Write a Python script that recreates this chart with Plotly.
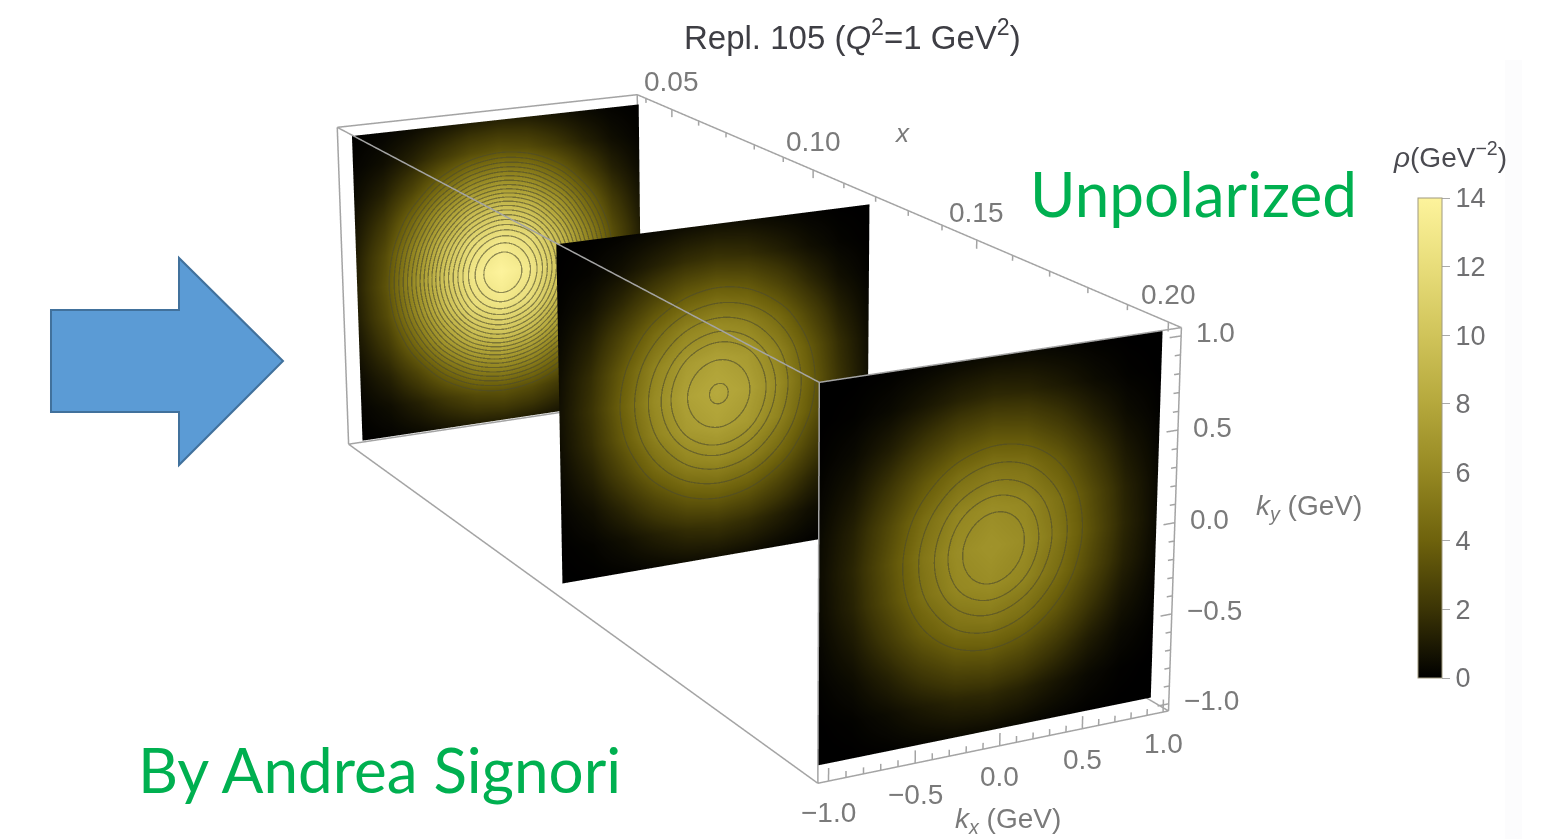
import numpy as np
import plotly.graph_objects as go

W, H = 1551, 839

# ---------- data ----------
kx_nodes = [-1.0, -0.8, -0.6, -0.4, -0.2, 0.0, 0.2, 0.4, 0.6, 0.8, 1.0]
ky_nodes = [-1.0, -0.8, -0.6, -0.4, -0.2, 0.0, 0.2, 0.4, 0.6, 0.8, 1.0]
panel_x = [0.0390, 0.1197, 0.2000]

rho_panel_1 = [
    [0.04, 0.16, 0.42, 0.79, 1.13, 1.27, 1.13, 0.79, 0.42, 0.16, 0.04],
    [0.16, 0.54, 1.27, 2.22, 3.05, 3.38, 3.05, 2.22, 1.27, 0.54, 0.16],
    [0.42, 1.27, 2.75, 4.56, 6.04, 6.62, 6.04, 4.56, 2.75, 1.27, 0.42],
    [0.79, 2.22, 4.56, 7.24, 9.38, 10.2, 9.38, 7.24, 4.56, 2.22, 0.79],
    [1.13, 3.05, 6.04, 9.38, 11.99, 12.96, 11.99, 9.38, 6.04, 3.05, 1.13],
    [1.27, 3.38, 6.62, 10.2, 12.96, 14.0, 12.96, 10.2, 6.62, 3.38, 1.27],
    [1.13, 3.05, 6.04, 9.38, 11.99, 12.96, 11.99, 9.38, 6.04, 3.05, 1.13],
    [0.79, 2.22, 4.56, 7.24, 9.38, 10.2, 9.38, 7.24, 4.56, 2.22, 0.79],
    [0.42, 1.27, 2.75, 4.56, 6.04, 6.62, 6.04, 4.56, 2.75, 1.27, 0.42],
    [0.16, 0.54, 1.27, 2.22, 3.05, 3.38, 3.05, 2.22, 1.27, 0.54, 0.16],
    [0.04, 0.16, 0.42, 0.79, 1.13, 1.27, 1.13, 0.79, 0.42, 0.16, 0.04],
]
rho_panel_2 = [
    [0.01, 0.04, 0.14, 0.32, 0.52, 0.60, 0.52, 0.32, 0.14, 0.04, 0.01],
    [0.04, 0.20, 0.60, 1.21, 1.76, 1.98, 1.76, 1.21, 0.60, 0.20, 0.04],
    [0.14, 0.60, 1.56, 2.76, 3.73, 4.09, 3.73, 2.76, 1.56, 0.60, 0.14],
    [0.32, 1.21, 2.76, 4.48, 5.74, 6.20, 5.74, 4.48, 2.76, 1.21, 0.32],
    [0.52, 1.76, 3.73, 5.74, 7.13, 7.61, 7.13, 5.74, 3.73, 1.76, 0.52],
    [0.60, 1.98, 4.09, 6.20, 7.61, 8.10, 7.61, 6.20, 4.09, 1.98, 0.60],
    [0.52, 1.76, 3.73, 5.74, 7.13, 7.61, 7.13, 5.74, 3.73, 1.76, 0.52],
    [0.32, 1.21, 2.76, 4.48, 5.74, 6.20, 5.74, 4.48, 2.76, 1.21, 0.32],
    [0.14, 0.60, 1.56, 2.76, 3.73, 4.09, 3.73, 2.76, 1.56, 0.60, 0.14],
    [0.04, 0.20, 0.60, 1.21, 1.76, 1.98, 1.76, 1.21, 0.60, 0.20, 0.04],
    [0.01, 0.04, 0.14, 0.32, 0.52, 0.60, 0.52, 0.32, 0.14, 0.04, 0.01],
]
rho_panel_3 = [
    [0.00, 0.02, 0.09, 0.23, 0.38, 0.43, 0.35, 0.20, 0.07, 0.02, 0.00],
    [0.02, 0.13, 0.45, 0.96, 1.41, 1.56, 1.32, 0.84, 0.37, 0.10, 0.01],
    [0.09, 0.44, 1.25, 2.29, 3.11, 3.36, 2.96, 2.08, 1.08, 0.37, 0.07],
    [0.21, 0.91, 2.24, 3.75, 4.82, 5.14, 4.66, 3.51, 2.04, 0.80, 0.18],
    [0.34, 1.33, 3.01, 4.76, 5.94, 6.31, 5.85, 4.61, 2.87, 1.25, 0.32],
    [0.39, 1.46, 3.24, 5.06, 6.28, 6.70, 6.28, 5.06, 3.24, 1.46, 0.39],
    [0.32, 1.25, 2.87, 4.61, 5.85, 6.31, 5.94, 4.76, 3.01, 1.33, 0.34],
    [0.18, 0.80, 2.04, 3.51, 4.66, 5.14, 4.82, 3.75, 2.24, 0.91, 0.21],
    [0.07, 0.37, 1.08, 2.08, 2.96, 3.36, 3.11, 2.29, 1.25, 0.44, 0.09],
    [0.01, 0.10, 0.37, 0.84, 1.32, 1.56, 1.41, 0.96, 0.45, 0.13, 0.02],
    [0.00, 0.02, 0.07, 0.20, 0.35, 0.43, 0.38, 0.23, 0.09, 0.02, 0.00],
]
levels_panel_1 = [3.5, 4.0, 4.5, 5.0, 5.5, 6.0, 6.5, 7.0, 7.5, 8.0, 8.5, 9.0, 9.5, 10.0,
                  10.5, 11.0, 11.5, 12.0, 12.5, 13.0, 13.5]
levels_panel_2 = [3.75, 4.75, 5.7, 6.45, 6.95, 7.6, 8.05]
levels_panel_3 = [3.9, 4.75, 5.45, 5.95, 6.35]

x_major_ticks = [0.05, 0.10, 0.15, 0.20]
x_tick_labels = ["0.05", "0.10", "0.15", "0.20"]
kx_major_ticks = [-1.0, -0.5, 0.0, 0.5, 1.0]
kx_tick_labels = ["\u22121.0", "\u22120.5", "0.0", "0.5", "1.0"]
ky_major_ticks = [-1.0, -0.5, 0.0, 0.5, 1.0]
ky_tick_labels = ["\u22121.0", "\u22120.5", "0.0", "0.5", "1.0"]
cbar_ticks = [0, 2, 4, 6, 8, 10, 12, 14]

# ---------- box and view ----------
xmin, xmax = 0.0366, 0.2031
ymin, ymax = -1.0610, 1.0343
zmin, zmax = -1.0402, 1.0438
aspect = (2.9823, 0.9811, 0.9794)
eye = (8.5141, -4.3055, 2.8654)
center = (0.1706, 0.0937, -0.0424)
up = (-0.0033, -0.0011, 1.0)
lens = 3.6369
pad = 0.01   # axis ranges slightly wider than the box so its edges are not clipped


def refine(A, m=8):
    A = np.asarray(A, float)
    def along(B):
        n = B.shape[0]
        ext = np.vstack([2*B[0]-B[1], B, 2*B[-1]-B[-2]])
        rows = []
        for i in range(n-1):
            for k in range(m):
                t = k/m
                a0, a1, a2, a3 = ext[i], ext[i+1], ext[i+2], ext[i+3]
                rows.append(.5*(2*a1+(a2-a0)*t+(2*a0-5*a1+4*a2-a3)*t*t+(3*a1-a0-3*a2+a3)*t**3))
        rows.append(B[-1])
        return np.array(rows)
    return along(along(A).T).T


def contour_xyz(field, levels, xval):
    F = refine(field)
    Kx = refine(np.tile(kx_nodes, (len(ky_nodes), 1)))
    Ky = refine(np.tile(np.array(ky_nodes)[:, None], (1, len(kx_nodes))))
    X, Y, Z = [], [], []
    kxs = Kx[0]; kys = Ky[:, 0]
    for lev in levels:
        if F.max() < lev:
            continue
        for j in range(F.shape[0]-1):
            for i in range(F.shape[1]-1):
                c = [F[j,i], F[j,i+1], F[j+1,i+1], F[j+1,i]]
                if (min(c) >= lev) or (max(c) < lev):
                    continue
                corners = [(kxs[i],kys[j]),(kxs[i+1],kys[j]),(kxs[i+1],kys[j+1]),(kxs[i],kys[j+1])]
                pts = []
                for e in range(4):
                    a, b = c[e], c[(e+1)%4]
                    if (a < lev) != (b < lev):
                        t = (lev-a)/(b-a)
                        pa, pb = corners[e], corners[(e+1)%4]
                        pts.append((pa[0]+t*(pb[0]-pa[0]), pa[1]+t*(pb[1]-pa[1])))
                if len(pts) >= 2:
                    X += [xval, xval, None]
                    Y += [pts[0][0], pts[1][0], None]
                    Z += [pts[0][1], pts[1][1], None]
    return X, Y, Z


colorscale = [[0,'#000000'],[1/7,'#3b3405'],[2/7,'#6e620c'],[3/7,'#958822'],
              [4/7,'#b5a83c'],[5/7,'#d0c45a'],[6/7,'#e8dd7a'],[1,'#fdf39c']]

fig = go.Figure()
dx = 0.0006
for xval, rho, levels, is_last in zip(panel_x, [rho_panel_1, rho_panel_2, rho_panel_3],
                                      [levels_panel_1, levels_panel_2, levels_panel_3], [False, False, True]):
    xx = np.full((len(ky_nodes), len(kx_nodes)), xval)
    yy, zz = np.meshgrid(kx_nodes, ky_nodes)
    fig.add_trace(go.Surface(
        x=xx, y=yy, z=zz, surfacecolor=rho, cmin=0, cmax=14, colorscale=colorscale,
        showscale=is_last, hoverinfo='skip',
        lighting=dict(ambient=1, diffuse=0, specular=0, roughness=1, fresnel=0),
        colorbar=dict(x=1418/W, xanchor='left', xpad=0, ypad=0, y=1-438/H, yanchor='middle', len=480, lenmode='pixels',
                      thickness=24, thicknessmode='pixels', tickvals=cbar_ticks, ticks='outside', ticklen=8,
                      tickcolor='#aaaaaa', outlinecolor='#a09a80', outlinewidth=1,
                      tickfont=dict(family='Liberation Sans', size=27, color='#707072'))))
    X, Y, Z = contour_xyz(rho, levels, xval+dx)
    fig.add_trace(go.Scatter3d(x=X, y=Y, z=Z, mode='lines', hoverinfo='skip', opacity=0.6,
                               line=dict(color='#4c4a2c', width=2.5)))

edges = []
for a in (ymin, ymax):
    for b in (zmin, zmax):
        edges.append(((xmin,a,b),(xmax,a,b)))
for a in (xmin, xmax):
    for b in (zmin, zmax):
        edges.append(((a,ymin,b),(a,ymax,b)))
for a in (xmin, xmax):
    for b in (ymin, ymax):
        edges.append(((a,b,zmin),(a,b,zmax)))
ex, ey, ez = [], [], []
for s, e in edges:
    ex += [s[0], e[0], None]; ey += [s[1], e[1], None]; ez += [s[2], e[2], None]
def seg(a, b):
    ex.extend([a[0], b[0], None]); ey.extend([a[1], b[1], None]); ez.extend([a[2], b[2], None])
for k in range(4, 21):
    v = k/100
    L = 0.05 if k % 5 == 0 else 0.03
    seg((v, ymax, zmax), (v, ymax, zmax-L))
for k in range(-10, 11):
    v = k/10
    major = k % 5 == 0
    seg((xmax, v, zmin), (xmax, v, zmin+(0.07 if major else 0.035)))
    seg((xmax, ymax, v), (xmax, ymax-(0.07 if major else 0.035), v))
fig.add_trace(go.Scatter3d(x=ex, y=ey, z=ez, mode='lines', hoverinfo='skip',
                           line=dict(color='#a4a4a4', width=3)))

tick_font = dict(family='Liberation Sans', size=28, color='#7a7a7a')
scene_ann = []
for v, t in zip(x_major_ticks, x_tick_labels):
    scene_ann.append(dict(x=v, y=ymax, z=zmax, text=t, showarrow=False, font=tick_font, yshift=28))
for v, t in zip(kx_major_ticks, kx_tick_labels):
    scene_ann.append(dict(x=xmax, y=v, z=zmin, text=t, showarrow=False, font=tick_font, yshift=-31))
for v, t in zip(ky_major_ticks, ky_tick_labels):
    scene_ann.append(dict(x=xmax, y=ymax, z=v, text=t, showarrow=False, font=tick_font, xanchor='left', xshift=13, yshift=3))


def ann(px, py, text, size, color, family='Liberation Sans', anchor='center'):
    return dict(x=px/W, y=1-py/H, xref='paper', yref='paper', text=text, showarrow=False,
                xanchor=anchor, yanchor='middle', font=dict(family=family, size=size, color=color))


anns = [
    ann(852, 35, "Repl. 105 (<i>Q</i><sup>2</sup>=1 GeV<sup>2</sup>)", 33, '#3e3e44'),
    ann(902, 133, "<i>x</i>", 26, '#7a7a7a'),
    ann(1008, 820, "<i>k</i><sub><i>x</i></sub> (GeV)", 28, '#7a7a7a'),
    ann(1309, 507, "<i>k</i><sub><i>y</i></sub> (GeV)", 28, '#7a7a7a'),
    ann(1450, 155, "<i>\u03c1</i>(GeV<sup>\u22122</sup>)", 28, '#4a4a50'),
    ann(1193, 193, "Unpolarized", 62, '#00B050', 'Lato'),
    ann(379, 769, "By Andrea Signori", 62, '#00B050', 'Lato'),
]


def pp(px, py):
    return "%.5f %.5f" % (px/W, 1-py/H)


arrow_pts = [(51,310),(179,310),(179,258),(283,361),(179,465),(179,412),(51,412)]
arrow_path = "M " + " L ".join(pp(*a) for a in arrow_pts) + " Z"

xp, yp, zp = pad*(xmax-xmin), pad*(ymax-ymin), pad*(zmax-zmin)
fig.update_layout(
    width=W, height=H, margin=dict(l=0, r=0, t=0, b=0), paper_bgcolor='white', showlegend=False,
    annotations=anns,
    shapes=[
        dict(type='rect', xref='paper', yref='paper', x0=1505/W, x1=1522/W, y0=0, y1=1-60/H,
             fillcolor='#fcfcfd', line=dict(width=0), layer='below'),
        dict(type='path', xref='paper', yref='paper', path=arrow_path, fillcolor='#5B9BD5',
             line=dict(color='#41719C', width=2)),
    ],
    scene=dict(
        domain=dict(x=[0,1], y=[0,1]),
        xaxis=dict(visible=False, range=[xmin-xp, xmax+xp]),
        yaxis=dict(visible=False, range=[ymin-yp, ymax+yp]),
        zaxis=dict(visible=False, range=[zmin-zp, zmax+zp]),
        aspectmode='manual',
        aspectratio=dict(x=aspect[0]*(1+2*pad), y=aspect[1]*(1+2*pad), z=aspect[2]*(1+2*pad)),
        camera=dict(eye=dict(x=eye[0],y=eye[1],z=eye[2]), center=dict(x=center[0],y=center[1],z=center[2]),
                    up=dict(x=up[0],y=up[1],z=up[2]), projection=dict(type='perspective')),
        annotations=scene_ann,
    ))
fovy = 2*np.arctan(np.tan(np.pi/8)/lens)
post = """
document.body.style.margin='0';
document.documentElement.style.overflow='hidden';
var gd=document.querySelector('.plotly-graph-div');
var sc=gd._fullLayout.scene._scene;
function setLens(){ sc.glplot.fovy=%f; sc.glplot.zNear=5; sc.glplot.zFar=20; if(sc.glplot.redraw) sc.glplot.redraw(); if(sc.render) sc.render(); }
setLens(); setTimeout(setLens,100);
""" % fovy
fig.write_html("out.html", post_script=post, config=dict(displayModeBar=False))
